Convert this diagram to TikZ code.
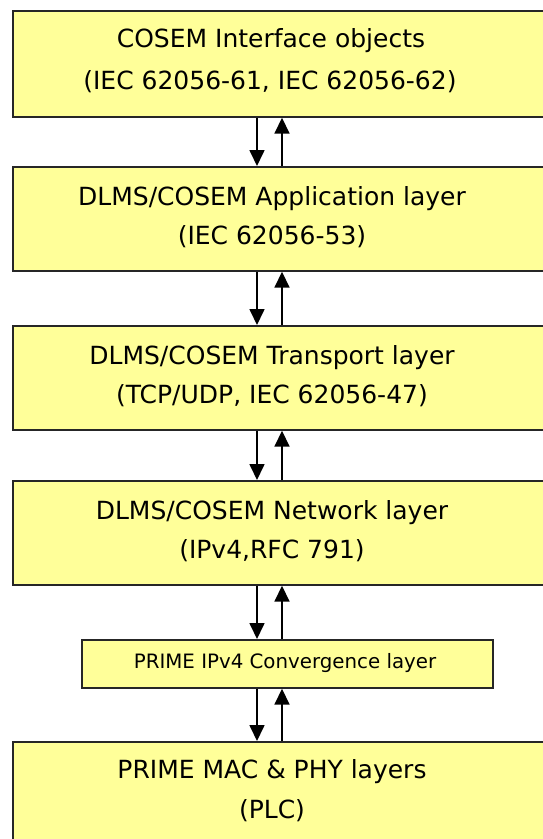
\documentclass[tikz,border=0pt]{standalone}
\usepackage{fontspec}
\setmainfont{DejaVu Sans}
\usetikzlibrary{arrows.meta}
\definecolor{boxyellow}{HTML}{FFFF99}
\begin{document}
\begin{tikzpicture}[x=1pt,y=-1pt,
  layerbox/.style={draw=black!85, line width=1.7pt, fill=boxyellow, rectangle, anchor=north west, inner sep=0pt},
  bigtxt/.style={anchor=base, font=\fontsize{25}{29}\selectfont, inner sep=0pt},
  smalltxt/.style={anchor=base, font=\fontsize{19.8}{23}\selectfont, inner sep=0pt},
  flow/.style={line width=1.7pt, -{Triangle[width=15pt,length=16pt]}}]
\useasboundingbox (0,0) rectangle (543,839);
\clip (0,0) rectangle (543,839);
\node[layerbox, minimum width=540pt, minimum height=106pt] (b1) at (12,10) {};
\node[layerbox, minimum width=540pt, minimum height=104pt] (b2) at (12,166) {};
\node[layerbox, minimum width=540pt, minimum height=104pt] (b3) at (12,325) {};
\node[layerbox, minimum width=540pt, minimum height=104pt] (b4) at (12,480) {};
\node[layerbox, minimum width=411pt, minimum height=48pt] (b5) at (81,639) {};
\node[layerbox, minimum width=540pt, minimum height=130pt] (b6) at (12,741) {};
\node[bigtxt] (t1a) at (271,47) {COSEM Interface objects};
\node[bigtxt] (t1b) at (270,89) {(IEC 62056-61, IEC 62056-62)};
\node[bigtxt] (t2a) at (272,205) {DLMS/COSEM Application layer};
\node[bigtxt] (t2b) at (272,244) {(IEC 62056-53)};
\node[bigtxt] (t3a) at (272,364) {DLMS/COSEM Transport layer};
\node[bigtxt] (t3b) at (272,403) {(TCP/UDP, IEC 62056-47)};
\node[bigtxt] (t4a) at (272,519) {DLMS/COSEM Network layer};
\node[bigtxt] (t4b) at (272,558) {(IPv4,RFC 791)};
\node[smalltxt] (t5) at (285,668) {PRIME IPv4 Convergence layer};
\node[bigtxt] (t6a) at (272,778) {PRIME MAC \& PHY layers};
\node[bigtxt] (t6b) at (272,818) {(PLC)};
\coordinate (dn) at (257,0);
\coordinate (up) at (282,0);
\foreach \a/\b in {b1/b2,b2/b3,b3/b4,b4/b5,b5/b6}{
  \draw[flow] (\a.south -| dn) -- (\b.north -| dn);
  \draw[flow] (\b.north -| up) -- (\a.south -| up);
}
\end{tikzpicture}
\end{document}
